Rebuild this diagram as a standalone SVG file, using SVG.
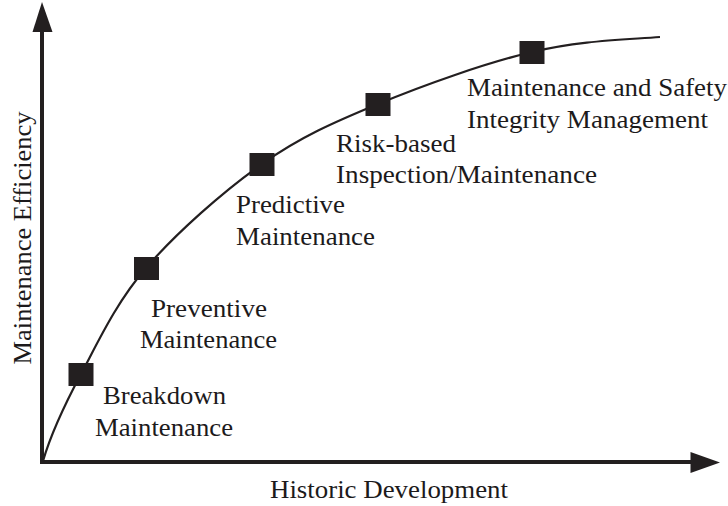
<svg xmlns="http://www.w3.org/2000/svg" width="728" height="506" viewBox="0 0 728 506">
<style>
.t{font-family:"Liberation Serif","Times New Roman",serif;font-size:26px;fill:#1c1a1b}
.sq{fill:#231f20}
.ax{stroke:#231f20;stroke-width:4;fill:none}
.ah{fill:#231f20}
.cv{stroke:#231f20;stroke-width:2.2;fill:none}
</style>
<rect width="728" height="506" fill="#ffffff"/>
<g id="axes">
<path class="ax" d="M42 462 V30 M40 462 H692"/>
<polygon class="ah" points="42,2 32.5,32 52.5,32"/>
<polygon class="ah" points="720,462.5 690.5,452 690.5,473"/>
<text class="t" transform="translate(31,238) rotate(-90)" text-anchor="middle" textLength="253" lengthAdjust="spacingAndGlyphs">Maintenance Efficiency</text>
<text class="t" x="270" y="498" textLength="238" lengthAdjust="spacingAndGlyphs">Historic Development</text>
</g>
<g id="connectors">
<path class="cv" d="M43 461 C50 437 63.8 406.2 81 374 C98.2 341.8 115.8 303 146 268 C176.2 233 223.3 191.3 262 164 C300.7 136.7 333 122.7 378 104 C423 85.3 485 63.2 532 52 C579 40.8 620 40 660 37"/>
</g>
<g id="breakdown">
<rect class="sq" x="68.5" y="363" width="25" height="23"/>
<text class="t" x="103" y="404" textLength="123" lengthAdjust="spacingAndGlyphs">Breakdown</text>
<text class="t" x="95" y="436" textLength="138" lengthAdjust="spacingAndGlyphs">Maintenance</text>
</g>
<g id="preventive">
<rect class="sq" x="134" y="257" width="25" height="23"/>
<text class="t" x="151" y="317" textLength="116" lengthAdjust="spacingAndGlyphs">Preventive</text>
<text class="t" x="140" y="348" textLength="137" lengthAdjust="spacingAndGlyphs">Maintenance</text>
</g>
<g id="predictive">
<rect class="sq" x="249.5" y="153" width="25" height="23"/>
<text class="t" x="236" y="213" textLength="109" lengthAdjust="spacingAndGlyphs">Predictive</text>
<text class="t" x="236" y="245" textLength="139" lengthAdjust="spacingAndGlyphs">Maintenance</text>
</g>
<g id="risk-based">
<rect class="sq" x="365.5" y="93" width="25" height="23"/>
<text class="t" x="336" y="152" textLength="120" lengthAdjust="spacingAndGlyphs">Risk-based</text>
<text class="t" x="336" y="183" textLength="261" lengthAdjust="spacingAndGlyphs">Inspection/Maintenance</text>
</g>
<g id="safety-integrity">
<rect class="sq" x="519.5" y="41" width="25" height="23"/>
<text class="t" x="467" y="96" textLength="260" lengthAdjust="spacingAndGlyphs">Maintenance and Safety</text>
<text class="t" x="467" y="128" textLength="241" lengthAdjust="spacingAndGlyphs">Integrity Management</text>
</g>
</svg>
